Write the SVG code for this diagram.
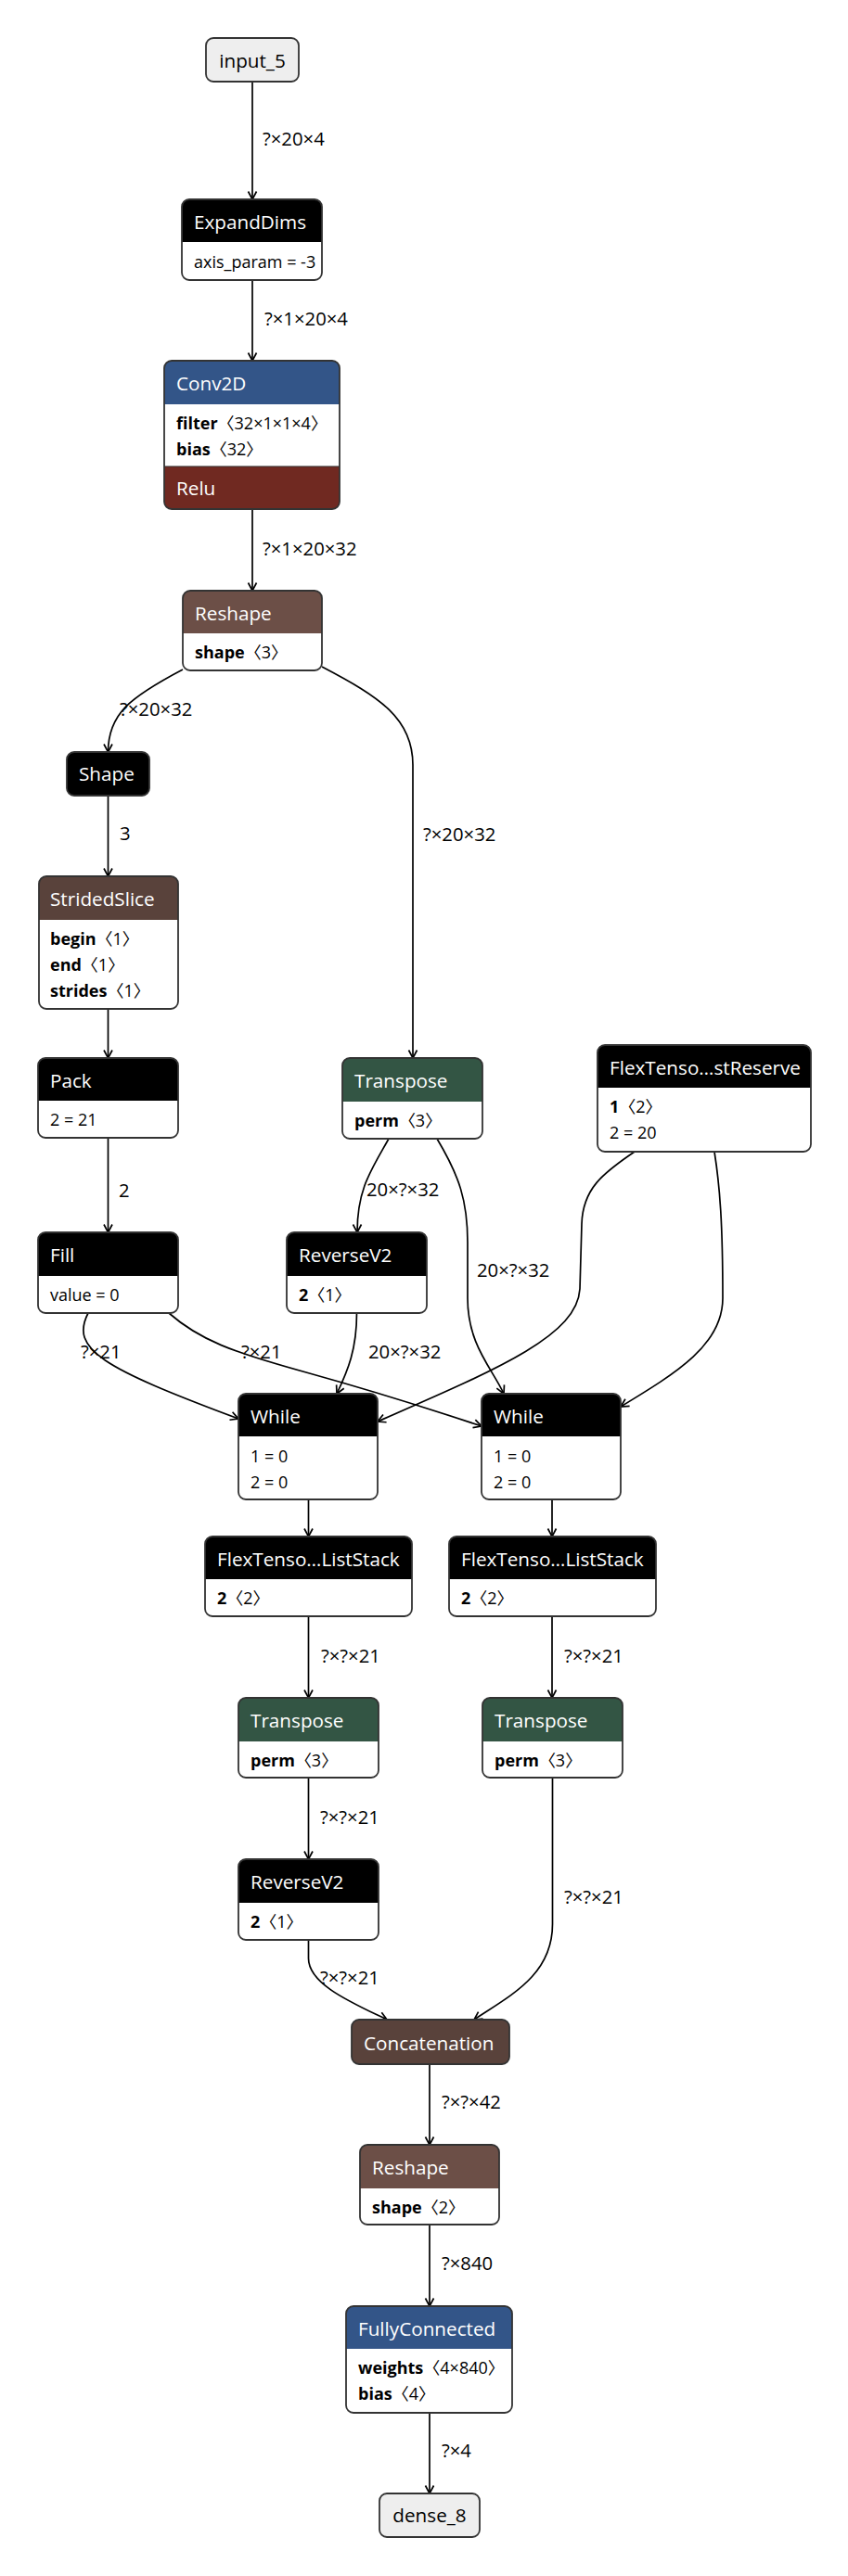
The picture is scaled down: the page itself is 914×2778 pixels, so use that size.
<svg xmlns="http://www.w3.org/2000/svg" width="914" height="2778" viewBox="0 0 914 2778">
<style>
.bg{fill:#fff}
.ol{fill:none;stroke:#333;stroke-width:1.8}
.body{fill:#fff}
.io{fill:#eee}
.k{fill:#000}
.blue{fill:#335588}
.relu{fill:#702921}
.shp{fill:#6c4f47}
.tns{fill:#59423b}
.trn{fill:#335544}
.ht{font-family:"Open Sans","Noto Sans",sans-serif;font-size:20.7px;fill:#fff}
.iot{font-family:"Open Sans","Noto Sans",sans-serif;font-size:20.7px;fill:#000;text-anchor:middle}
.at{font-family:"Open Sans","Noto Sans CJK SC",sans-serif;font-size:18px;fill:#000}
.at .b{font-weight:bold}
.el{font-family:"Open Sans","Noto Sans",sans-serif;font-size:20.3px;fill:#000}
.edge{fill:none;stroke:#000;stroke-width:1.7;marker-end:url(#arr)}
</style>
<defs>
<marker id="arr" markerUnits="userSpaceOnUse" viewBox="0 0 12 12" markerWidth="12" markerHeight="12" refX="10" refY="6" orient="auto">
<path d="M1.5,1.5 L10,6 L1.5,10.5" fill="none" stroke="#000" stroke-width="1.7"/>
</marker>
</defs>
<rect class="bg" x="0" y="0" width="914" height="2778"/>

<g id="connectors">
<path class="edge" d="M272 88 L272 215"/>
<path class="edge" d="M272 302 L272 389"/>
<path class="edge" d="M272 549 L272 637"/>
<path class="edge" d="M197 722 C140 752 116.5 770 116.5 811"/>
<path class="edge" d="M347 719 C410 752 445 775 445 825 L445 1141"/>
<path class="edge" d="M116.5 858 L116.5 945"/>
<path class="edge" d="M116.5 1088 L116.5 1141"/>
<path class="edge" d="M116.5 1227 L116.5 1329"/>
<path class="edge" d="M419 1228 C400 1262 385 1282 385 1329"/>
<path class="edge" d="M471 1228 C495 1268 504 1295 504 1340 L504 1400 C504 1450 530 1475 543 1503"/>
<path class="edge" d="M384.5 1416 C384.5 1455 375 1478 363 1503"/>
<path class="edge" d="M95 1416 C75 1455 110 1475 257 1530"/>
<path class="edge" d="M182 1416 C215 1445 250 1458 330 1480 C420 1505 480 1525 519 1538"/>
<path class="edge" d="M684 1242 C650 1265 628 1282 627 1320 L625 1390 C622 1440 540 1475 407 1533"/>
<path class="edge" d="M770 1242 C776 1280 779 1320 779 1400 C779 1450 730 1480 669 1517"/>
<path class="edge" d="M332.5 1617 L332.5 1657"/>
<path class="edge" d="M595 1617 L595 1657"/>
<path class="edge" d="M332.5 1743 L332.5 1831"/>
<path class="edge" d="M595 1743 L595 1831"/>
<path class="edge" d="M332.5 1917 L332.5 2005"/>
<path class="edge" d="M332.5 2092 L332.5 2112 C332.5 2140 380 2160 417 2178"/>
<path class="edge" d="M595.5 1917 L595.5 2075 C595.5 2130 550 2152 511 2178"/>
<path class="edge" d="M463 2226 L463 2313"/>
<path class="edge" d="M463 2399 L463 2487"/>
<path class="edge" d="M463 2602 L463 2689"/>
<text class="el" x="283" y="157">?×20×4</text>
<text class="el" x="285" y="351">?×1×20×4</text>
<text class="el" x="283" y="599">?×1×20×32</text>
<text class="el" x="129" y="772">?×20×32</text>
<text class="el" x="456" y="907">?×20×32</text>
<text class="el" x="129" y="906">3</text>
<text class="el" x="128" y="1291">2</text>
<text class="el" x="395" y="1290">20×?×32</text>
<text class="el" x="514" y="1377">20×?×32</text>
<text class="el" x="87" y="1465">?×21</text>
<text class="el" x="260" y="1465">?×21</text>
<text class="el" x="397" y="1465">20×?×32</text>
<text class="el" x="346" y="1793">?×?×21</text>
<text class="el" x="608" y="1793">?×?×21</text>
<text class="el" x="345" y="1967">?×?×21</text>
<text class="el" x="608" y="2053">?×?×21</text>
<text class="el" x="345" y="2140">?×?×21</text>
<text class="el" x="476" y="2274">?×?×42</text>
<text class="el" x="476" y="2448">?×840</text>
<text class="el" x="476" y="2650">?×4</text>
</g>

<g id="input_5">
<rect class="io" x="222" y="41" width="100" height="47" rx="8"/>
<rect class="ol" x="222" y="41" width="100" height="47" rx="8"/>
<text class="iot" x="272" y="73">input_5</text>
</g>

<g id="ExpandDims">
<rect class="body" x="196" y="215" width="151" height="87" rx="8"/>
<path class="k" d="M196 261 L196 223 Q196 215 204 215 L339 215 Q347 215 347 223 L347 261 Z"/>
<rect class="ol" x="196" y="215" width="151" height="87" rx="8"/>
<text class="ht" x="209" y="247">ExpandDims</text>
<text class="at" x="209" y="289">axis_param = -3</text>
</g>

<g id="Conv2D">
<rect class="body" x="177" y="389" width="189" height="160" rx="8"/>
<path class="blue" d="M177 436 L177 397 Q177 389 185 389 L358 389 Q366 389 366 397 L366 436 Z"/>
<path class="relu" d="M177 503 L366 503 L366 541 Q366 549 358 549 L185 549 Q177 549 177 541 Z"/>
<line x1="177" y1="503" x2="366" y2="503" stroke="#333" stroke-width="1"/>
<rect class="ol" x="177" y="389" width="189" height="160" rx="8"/>
<text class="ht" x="190" y="421">Conv2D</text>
<text class="at" x="190" y="463"><tspan class="b">filter</tspan>〈32×1×1×4〉</text>
<text class="at" x="190" y="491"><tspan class="b">bias</tspan>〈32〉</text>
<text class="ht" x="190" y="534">Relu</text>
</g>

<g id="Reshape">
<rect class="body" x="197" y="637" width="150" height="86" rx="8"/>
<path class="shp" d="M197 683 L197 645 Q197 637 205 637 L339 637 Q347 637 347 645 L347 683 Z"/>
<rect class="ol" x="197" y="637" width="150" height="86" rx="8"/>
<text class="ht" x="210" y="669">Reshape</text>
<text class="at" x="210" y="710"><tspan class="b">shape</tspan>〈3〉</text>
</g>

<g id="Shape">
<rect class="k" x="72" y="811" width="89" height="47" rx="8"/>
<rect class="ol" x="72" y="811" width="89" height="47" rx="8"/>
<text class="ht" x="85" y="842">Shape</text>
</g>

<g id="StridedSlice">
<rect class="body" x="42" y="945" width="150" height="143" rx="8"/>
<path class="tns" d="M42 992 L42 953 Q42 945 50 945 L184 945 Q192 945 192 953 L192 992 Z"/>
<rect class="ol" x="42" y="945" width="150" height="143" rx="8"/>
<text class="ht" x="54" y="977">StridedSlice</text>
<text class="at" x="54" y="1019"><tspan class="b">begin</tspan>〈1〉</text>
<text class="at" x="54" y="1047"><tspan class="b">end</tspan>〈1〉</text>
<text class="at" x="54" y="1075"><tspan class="b">strides</tspan>〈1〉</text>
</g>

<g id="Pack">
<rect class="body" x="41" y="1141" width="151" height="86" rx="8"/>
<path class="k" d="M41 1187 L41 1149 Q41 1141 49 1141 L184 1141 Q192 1141 192 1149 L192 1187 Z"/>
<rect class="ol" x="41" y="1141" width="151" height="86" rx="8"/>
<text class="ht" x="54" y="1173">Pack</text>
<text class="at" x="54" y="1214">2 = 21</text>
</g>

<g id="Transpose_1">
<rect class="body" x="369" y="1141" width="151" height="87" rx="8"/>
<path class="trn" d="M369 1188 L369 1149 Q369 1141 377 1141 L512 1141 Q520 1141 520 1149 L520 1188 Z"/>
<rect class="ol" x="369" y="1141" width="151" height="87" rx="8"/>
<text class="ht" x="382" y="1173">Transpose</text>
<text class="at" x="382" y="1215"><tspan class="b">perm</tspan>〈3〉</text>
</g>

<g id="TensorListReserve">
<rect class="body" x="644" y="1127" width="230" height="115" rx="8"/>
<path class="k" d="M644 1173 L644 1135 Q644 1127 652 1127 L866 1127 Q874 1127 874 1135 L874 1173 Z"/>
<rect class="ol" x="644" y="1127" width="230" height="115" rx="8"/>
<text class="ht" x="657" y="1159">FlexTenso…stReserve</text>
<text class="at" x="657" y="1200"><tspan class="b">1</tspan>〈2〉</text>
<text class="at" x="657" y="1228">2 = 20</text>
</g>

<g id="Fill">
<rect class="body" x="41" y="1329" width="151" height="87" rx="8"/>
<path class="k" d="M41 1376 L41 1337 Q41 1329 49 1329 L184 1329 Q192 1329 192 1337 L192 1376 Z"/>
<rect class="ol" x="41" y="1329" width="151" height="87" rx="8"/>
<text class="ht" x="54" y="1361">Fill</text>
<text class="at" x="54" y="1403">value = 0</text>
</g>

<g id="ReverseV2_1">
<rect class="body" x="309" y="1329" width="151" height="87" rx="8"/>
<path class="k" d="M309 1376 L309 1337 Q309 1329 317 1329 L452 1329 Q460 1329 460 1337 L460 1376 Z"/>
<rect class="ol" x="309" y="1329" width="151" height="87" rx="8"/>
<text class="ht" x="322" y="1361">ReverseV2</text>
<text class="at" x="322" y="1403"><tspan class="b">2</tspan>〈1〉</text>
</g>

<g id="While_1">
<rect class="body" x="257" y="1503" width="150" height="114" rx="8"/>
<path class="k" d="M257 1549 L257 1511 Q257 1503 265 1503 L399 1503 Q407 1503 407 1511 L407 1549 Z"/>
<rect class="ol" x="257" y="1503" width="150" height="114" rx="8"/>
<text class="ht" x="270" y="1535">While</text>
<text class="at" x="270" y="1577">1 = 0</text>
<text class="at" x="270" y="1605">2 = 0</text>
</g>

<g id="While_2">
<rect class="body" x="519" y="1503" width="150" height="114" rx="8"/>
<path class="k" d="M519 1549 L519 1511 Q519 1503 527 1503 L661 1503 Q669 1503 669 1511 L669 1549 Z"/>
<rect class="ol" x="519" y="1503" width="150" height="114" rx="8"/>
<text class="ht" x="532" y="1535">While</text>
<text class="at" x="532" y="1577">1 = 0</text>
<text class="at" x="532" y="1605">2 = 0</text>
</g>

<g id="TensorListStack_1">
<rect class="body" x="221" y="1657" width="223" height="86" rx="8"/>
<path class="k" d="M221 1703 L221 1665 Q221 1657 229 1657 L436 1657 Q444 1657 444 1665 L444 1703 Z"/>
<rect class="ol" x="221" y="1657" width="223" height="86" rx="8"/>
<text class="ht" x="234" y="1689">FlexTenso…ListStack</text>
<text class="at" x="234" y="1730"><tspan class="b">2</tspan>〈2〉</text>
</g>

<g id="TensorListStack_2">
<rect class="body" x="484" y="1657" width="223" height="86" rx="8"/>
<path class="k" d="M484 1703 L484 1665 Q484 1657 492 1657 L699 1657 Q707 1657 707 1665 L707 1703 Z"/>
<rect class="ol" x="484" y="1657" width="223" height="86" rx="8"/>
<text class="ht" x="497" y="1689">FlexTenso…ListStack</text>
<text class="at" x="497" y="1730"><tspan class="b">2</tspan>〈2〉</text>
</g>

<g id="Transpose_2">
<rect class="body" x="257" y="1831" width="151" height="86" rx="8"/>
<path class="trn" d="M257 1878 L257 1839 Q257 1831 265 1831 L400 1831 Q408 1831 408 1839 L408 1878 Z"/>
<rect class="ol" x="257" y="1831" width="151" height="86" rx="8"/>
<text class="ht" x="270" y="1863">Transpose</text>
<text class="at" x="270" y="1905"><tspan class="b">perm</tspan>〈3〉</text>
</g>

<g id="Transpose_3">
<rect class="body" x="520" y="1831" width="151" height="86" rx="8"/>
<path class="trn" d="M520 1878 L520 1839 Q520 1831 528 1831 L663 1831 Q671 1831 671 1839 L671 1878 Z"/>
<rect class="ol" x="520" y="1831" width="151" height="86" rx="8"/>
<text class="ht" x="533" y="1863">Transpose</text>
<text class="at" x="533" y="1905"><tspan class="b">perm</tspan>〈3〉</text>
</g>

<g id="ReverseV2_2">
<rect class="body" x="257" y="2005" width="151" height="87" rx="8"/>
<path class="k" d="M257 2052 L257 2013 Q257 2005 265 2005 L400 2005 Q408 2005 408 2013 L408 2052 Z"/>
<rect class="ol" x="257" y="2005" width="151" height="87" rx="8"/>
<text class="ht" x="270" y="2037">ReverseV2</text>
<text class="at" x="270" y="2079"><tspan class="b">2</tspan>〈1〉</text>
</g>

<g id="Concatenation">
<rect class="tns" x="379" y="2178" width="170" height="48" rx="8"/>
<rect class="ol" x="379" y="2178" width="170" height="48" rx="8"/>
<text class="ht" x="392" y="2211">Concatenation</text>
</g>

<g id="Reshape_2">
<rect class="body" x="388" y="2313" width="150" height="86" rx="8"/>
<path class="shp" d="M388 2360 L388 2321 Q388 2313 396 2313 L530 2313 Q538 2313 538 2321 L538 2360 Z"/>
<rect class="ol" x="388" y="2313" width="150" height="86" rx="8"/>
<text class="ht" x="401" y="2345">Reshape</text>
<text class="at" x="401" y="2387"><tspan class="b">shape</tspan>〈2〉</text>
</g>

<g id="FullyConnected">
<rect class="body" x="373" y="2487" width="179" height="115" rx="8"/>
<path class="blue" d="M373 2533 L373 2495 Q373 2487 381 2487 L544 2487 Q552 2487 552 2495 L552 2533 Z"/>
<rect class="ol" x="373" y="2487" width="179" height="115" rx="8"/>
<text class="ht" x="386" y="2519">FullyConnected</text>
<text class="at" x="386" y="2560"><tspan class="b">weights</tspan>〈4×840〉</text>
<text class="at" x="386" y="2588"><tspan class="b">bias</tspan>〈4〉</text>
</g>

<g id="dense_8">
<rect class="io" x="409" y="2689" width="108" height="47" rx="8"/>
<rect class="ol" x="409" y="2689" width="108" height="47" rx="8"/>
<text class="iot" x="463" y="2720">dense_8</text>
</g>
</svg>
